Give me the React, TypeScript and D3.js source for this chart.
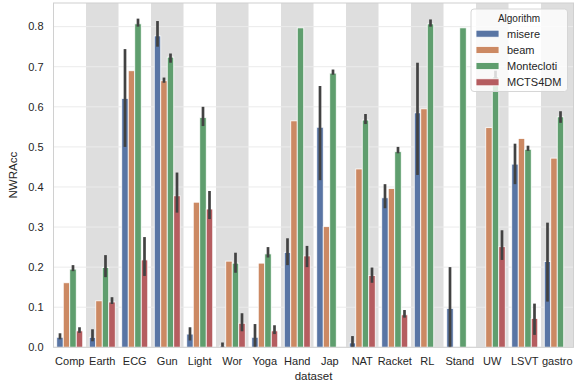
import React from "react";
import * as d3 from "d3";

const datasets = ["Comp", "Earth", "ECG", "Gun", "Light", "Wor", "Yoga", "Hand", "Jap", "NAT", "Racket", "RL", "Stand", "UW", "LSVT", "gastro"];
const algorithms = ["misere", "beam", "Montecloti", "MCTS4DM"];
const yTicks = [0, 0.1, 0.2, 0.3, 0.4, 0.5, 0.6, 0.7, 0.8];

// mean values per algorithm (null = no bar)
const misere = [0.025, 0.025, 0.621, 0.777, 0.033, 0.003, 0.025, 0.237, 0.549, 0.011, 0.373, 0.585, 0.097, null, 0.457, 0.214];
const beam = [0.161, 0.116, 0.69, 0.665, 0.362, 0.215, 0.21, 0.565, 0.301, 0.445, 0.396, 0.595, null, 0.548, 0.521, 0.472];
const monteclo = [0.195, 0.199, 0.807, 0.724, 0.573, 0.21, 0.233, 0.797, 0.684, 0.567, 0.488, 0.807, 0.797, 0.675, 0.494, 0.575];
const mcts = [0.041, 0.113, 0.218, 0.378, 0.345, 0.06, 0.041, 0.228, null, 0.179, 0.081, null, null, 0.251, 0.072, null];

// confidence intervals [lo, hi] (null = none drawn)
const misereCI = [[0.02, 0.035], [0.015, 0.045], [0.5, 0.744], [0.75, 0.814], [0.017, 0.05], [0, 0.012], [0, 0.058], [0.205, 0.272], [0.417, 0.652], [0, 0.028], [0.347, 0.407], [0.43, 0.71], [0, 0.2], null, [0.407, 0.508], [0.114, 0.311]];
const beamCI = [null, null, null, [0.66, 0.673], null, null, null, null, null, null, null, null, null, null, null, null];
const montecloCI = [[0.19, 0.205], [0.175, 0.23], [0.8, 0.82], [0.71, 0.733], [0.552, 0.6], [0.186, 0.236], [0.224, 0.25], null, [0.68, 0.693], [0.557, 0.582], [0.484, 0.5], [0.8, 0.818], null, [0.66, 0.69], [0.49, 0.503], [0.56, 0.589]];
const mctsCI = [[0.036, 0.05], [0.108, 0.125], [0.178, 0.275], [0.336, 0.436], [0.32, 0.39], [0.04, 0.085], [0.033, 0.055], [0.2, 0.253], null, [0.161, 0.199], [0.074, 0.093], null, null, [0.218, 0.292], [0.031, 0.109], null];

const series = [misere, beam, monteclo, mcts];
const seriesCI = [misereCI, beamCI, montecloCI, mctsCI];

// seaborn "deep" palette, desaturated like barplot does (saturation .75)
const colors = ["#4c72b0", "#dd8452", "#55a868", "#c44e52"].map(c => {
  const h = d3.hsl(c);
  h.s *= 0.75;
  return h.formatHex();
});

const W = 577, H = 386;
const left = 53.5, right = 573.5, top = 3, bottom = 347.3;
const font = "'Liberation Sans', Arial, sans-serif";
const textColor = "#262626";

export default function App() {
  const x = d3.scaleBand().domain(datasets).range([left, right]).paddingInner(0).paddingOuter(0);
  const y = d3.scaleLinear().domain([0, 0.859]).range([bottom, top]);
  const inner = d3.scaleBand().domain(algorithms).range([0, x.bandwidth()]).paddingInner(0).paddingOuter(0.5);

  const cx = (i: number, si: number) => (x(datasets[i]) as number) + (inner(algorithms[si]) as number);

  return (
    <svg width={W} height={H} style={{ position: "absolute", left: 0, top: 0, background: "#fff" }} fontFamily={font}>
      {/* alternating background bands */}
      {datasets.map((d, i) => i % 2 === 1 ? (
        <rect key={"band" + d} x={x(d)} y={top} width={x.bandwidth()} height={bottom - top} fill="#dedede" />
      ) : null)}
      {/* horizontal grid */}
      {yTicks.map(t => (
        <line key={"g" + t} x1={left} x2={right} y1={y(t)} y2={y(t)} stroke="#ebebeb" strokeWidth={1} />
      ))}
      {/* bars */}
      {series.map((vals, si) => vals.map((v, i) => v === null ? null : (
        <rect key={"b" + si + "-" + i}
          x={cx(i, si)} y={y(v)} width={inner.bandwidth()} height={y(0) - y(v)}
          fill={colors[si]} stroke="#fff" strokeWidth={0.8} />
      )))}
      {/* error bars */}
      {seriesCI.map((cis, si) => cis.map((ci, i) => ci === null ? null : (
        <line key={"e" + si + "-" + i}
          x1={cx(i, si) + inner.bandwidth() / 2} x2={cx(i, si) + inner.bandwidth() / 2}
          y1={y(ci[0])} y2={y(ci[1])} stroke="#424242" strokeWidth={2.7} />
      )))}
      {/* frame */}
      <rect x={left} y={top} width={right - left} height={bottom - top} fill="none" stroke="#d0d0d0" strokeWidth={1} />
      {/* y ticks */}
      {yTicks.map(t => (
        <text key={"yt" + t} x={left - 10} y={y(t)} dy="0.35em" textAnchor="end" fontSize={11} fill={textColor}>{t.toFixed(1)}</text>
      ))}
      {/* x ticks */}
      {datasets.map(d => (
        <text key={"xt" + d} x={(x(d) as number) + x.bandwidth() / 2} y={361.5} dy="0.35em" textAnchor="middle" fontSize={11} fill={textColor}>{d}</text>
      ))}
      <text x={(left + right) / 2} y={376} dy="0.35em" textAnchor="middle" fontSize={11.5} fill={textColor}>dataset</text>
      <text transform={`translate(13,${(top + bottom) / 2}) rotate(-90)`} dy="0.35em" textAnchor="middle" fontSize={11.5} fill={textColor}>NWRAcc</text>
      {/* legend */}
      <g transform="translate(471,9)">
        <rect x={0} y={0} width={96.5} height={82.5} rx={3} fill="#fff" fillOpacity={0.8} stroke="#d6d6d6" strokeWidth={1} />
        <text x={48} y={9} dy="0.35em" textAnchor="middle" fontSize={10} fill={textColor}>Algorithm</text>
        {algorithms.map((a, i) => (
          <g key={"l" + a} transform={`translate(5,${24.7 + i * 16.2})`}>
            <rect x={0} y={-3.5} width={23} height={7} fill={colors[i]} stroke="#fff" strokeWidth={0.8} />
            <text x={31} y={0} dy="0.35em" fontSize={11} fill={textColor}>{a}</text>
          </g>
        ))}
      </g>
    </svg>
  );
}
